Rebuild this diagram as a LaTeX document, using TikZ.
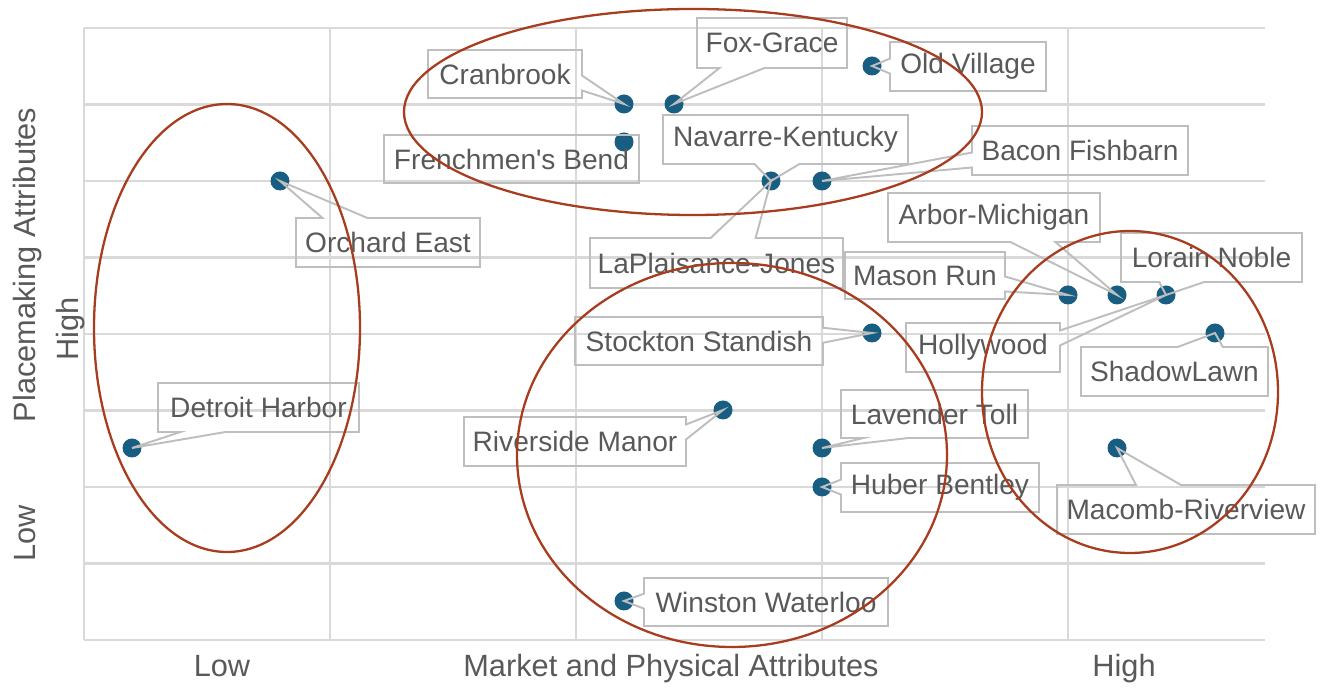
\documentclass[tikz,border=0pt]{standalone}
\usepackage{fontspec}
\setmainfont{Liberation Sans}
\usepackage{tikz}
\usetikzlibrary{shapes.callouts}
\definecolor{mgrid}{RGB}{217,217,217}
\definecolor{mline}{RGB}{190,190,190}
\definecolor{mtext}{RGB}{89,89,89}
\definecolor{mdot}{RGB}{24,94,130}
\definecolor{mring}{RGB}{168,60,30}
\tikzset{dot/.style = {fill=mdot, circle, inner sep = 0, minimum size = 0.38cm}}
\tikzset{lbl/.style = {rectangle callout, draw=mline, line width=1.1pt, text=mtext,
                       font=\fontsize{16}{18}\selectfont, inner sep = 0,
                       callout pointer width=0.9cm, callout absolute pointer={(#1.center)}}}
\tikzset{sidelbl/.style = {lbl=#1, callout pointer width=0.3cm}}
\tikzset{box/.style = {draw=mline, line width=1.1pt, text=mtext,
                       font=\fontsize{16}{18}\selectfont, inner sep = 0}}
\tikzset{ring/.style = {draw=mring, line width=1.3pt}}
\tikzset{axis/.style = {text=mtext, font=\fontsize{17.5}{20}\selectfont, inner sep = 0}}

\begin{document}
\begin{tikzpicture}[x=0.02cm, y=-0.02cm]
      \useasboundingbox (0,0) rectangle (1323,688);

      % grid
      \foreach \gx in {84,330,576,822,1068}
        \draw [mgrid, line width=1.2pt] (\gx,28) -- (\gx,640);
      \foreach \k in {0,...,8}
        \draw [mgrid, line width=1.2pt] (84,28+76.5*\k) -- (1265,28+76.5*\k);

      % neighbourhoods
      \node [dot] (orchard) at (280,181) {};
      \node [dot] (cranbrook) at (624,104) {};
      \node [dot] (foxgrace) at (674,104) {};
      \node [dot] (frenchmen) at (624,142) {};
      \node [dot] (oldvillage) at (872,66) {};
      \node [dot] (navarre) at (771,181) {};
      \node [dot] (bacon) at (822,181) {};
      \node [dot] (mason) at (1068,295) {};
      \node [dot] (arbor) at (1117,295) {};
      \node [dot] (lorain) at (1166,295) {};
      \node [dot] (shadow) at (1215,333) {};
      \node [dot] (stockton) at (872,333) {};
      \node [dot] (detroit) at (132,448) {};
      \node [dot] (riverside) at (723,410) {};
      \node [dot] (lavender) at (822,448) {};
      \node [dot] (huber) at (822,487) {};
      \node [dot] (macomb) at (1117,448) {};
      \node [dot] (winston) at (624,601) {};

      \node [sidelbl=cranbrook, minimum width=3.08cm, minimum height=0.96cm] (cranbrooklbl) at (505,74) {Cranbrook};
      \node [lbl=foxgrace, minimum width=3.0cm, minimum height=1.0cm] (foxgracelbl) at (772,43) {Fox-Grace};
      \node [sidelbl=oldvillage, minimum width=3.12cm, minimum height=0.98cm] (oldvillagelbl) at (968,66.5) {Old Village};
      \node [box, minimum width=5.1cm, minimum height=0.96cm] (frenchmenlbl) at (511.5,159) {Frenchmen\textquotesingle s Bend};
      \node [lbl=navarre, minimum width=4.9cm, minimum height=0.98cm] (navarrelbl) at (785.5,139.5) {Navarre-Kentucky};
      \node [sidelbl=bacon, minimum width=4.32cm, minimum height=0.98cm] (baconlbl) at (1080,150.5) {Bacon Fishbarn};
      \node [lbl=orchard, minimum width=3.68cm, minimum height=0.98cm] (orchardlbl) at (388,242.5) {Orchard East};
      \node [lbl=navarre, minimum width=5.06cm, minimum height=1.0cm] (laplaisancelbl) at (716.5,263) {LaPlaisance-Jones};
      \node [lbl=arbor, minimum width=4.24cm, minimum height=0.98cm] (arborlbl) at (994,217.5) {Arbor-Michigan};
      \node [lbl=lorain, minimum width=3.62cm, minimum height=0.98cm] (lorainlbl) at (1211.5,257.5) {Lorain Noble};
      \node [sidelbl=mason, minimum width=3.2cm, minimum height=0.94cm] (masonlbl) at (925,275.5) {Mason Run};
      \node [sidelbl=lorain, minimum width=3.08cm, minimum height=0.98cm] (hollywoodlbl) at (983,347.5) {Hollywood};
      \node [lbl=shadow, minimum width=3.74cm, minimum height=0.98cm] (shadowlbl) at (1174.5,371.5) {ShadowLawn};
      \node [sidelbl=stockton, minimum width=4.96cm, minimum height=0.96cm] (stocktonlbl) at (699,341) {Stockton Standish};
      \node [lbl=detroit, minimum width=4.02cm, minimum height=0.98cm] (detroitlbl) at (258.5,407.5) {Detroit Harbor};
      \node [sidelbl=riverside, minimum width=4.44cm, minimum height=0.98cm] (riversidelbl) at (575,441.5) {Riverside Manor};
      \node [lbl=lavender, minimum width=3.74cm, minimum height=0.96cm] (lavenderlbl) at (934.5,414) {Lavender Toll};
      \node [sidelbl=huber, minimum width=3.96cm, minimum height=0.98cm] (huberlbl) at (940,487.5) {Huber Bentley};
      \node [lbl=macomb, minimum width=5.16cm, minimum height=0.98cm] (macomblbl) at (1186,509.5) {Macomb-Riverview};
      \node [sidelbl=winston, minimum width=4.88cm, minimum height=0.96cm] (winstonlbl) at (766,602) {Winston Waterloo};

      % clusters
      \draw [ring] (227,328) ellipse [x radius=133, y radius=224];
      \draw [ring] (693,112) ellipse [x radius=289, y radius=103];
      \draw [ring] (732,455) ellipse [x radius=215, y radius=192];
      \draw [ring] (1130,392) ellipse [x radius=148, y radius=161];

      % axes
      \node [axis, anchor=base] (xlow) at (222,677) {Low};
      \node [axis, anchor=base] (xtitle) at (671,677) {Market and Physical Attributes};
      \node [axis, anchor=base] (xhigh) at (1124,677) {High};
      \node [axis, anchor=base, rotate=90] (ytitle) at (35,265) {Placemaking Attributes};
      \node [axis, anchor=base, rotate=90] (yhigh) at (78,329) {High};
      \node [axis, anchor=base, rotate=90] (ylow) at (35,533) {Low};
    \end{tikzpicture}
\end{document}
